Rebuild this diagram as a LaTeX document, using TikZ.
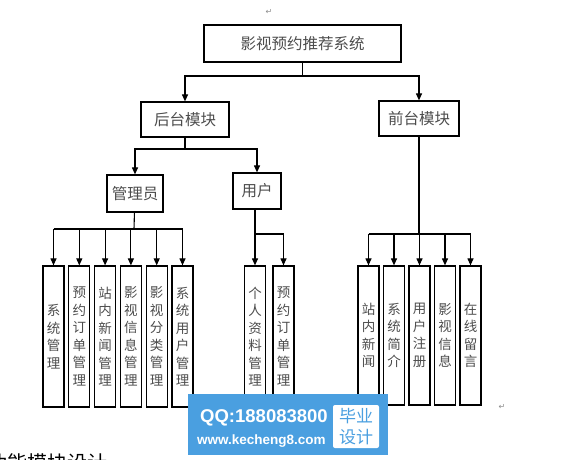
\documentclass[tikz,border=0pt]{standalone}
\usepackage{fontspec}
\setmainfont{Noto Sans CJK SC}
\newfontfamily\wmfont{Liberation Sans}
\newfontfamily\symfont{DejaVu Sans}
\usetikzlibrary{arrows.meta}
\definecolor{wmblue}{HTML}{4A9FE0}

\begin{document}
\begin{tikzpicture}[x=1pt, y=-1pt,
    box/.style={draw, line width=1.2pt, inner sep=0pt, text=black!70, font=\fontsize{15.5}{18}\selectfont},
    leaf/.style={box, minimum width=21pt, align=center, font=\fontsize{13.5}{17.5}\selectfont},
    link/.style={line width=1.1pt},
    arr/.style={link, -{Triangle[length=7pt, width=6pt]}},
    retmark/.style={text=black!45, inner sep=0pt, font=\symfont\fontsize{8}{8}\selectfont}]
  \useasboundingbox (0,0) rectangle (579,460);
  % upper levels
  \node[box, minimum width=197pt, minimum height=37pt] (top) at (302.5,43.5) {影视预约推荐系统};
  \node[box, minimum width=88pt, minimum height=35pt] (back) at (185,119.5) {后台模块};
  \node[box, minimum width=80pt, minimum height=35pt] (front) at (419,118.5) {前台模块};
  \node[box, minimum width=56pt, minimum height=37pt] (admin) at (135,193.5) {管理员};
  \node[box, minimum width=48pt, minimum height=36pt] (user) at (257,191) {用户};
  \coordinate (j0) at (302.5,76);
  \coordinate (j1) at (185,149);
  \draw[link] (top) -- (j0);
  \draw[arr] (j0) -| (back);
  \draw[arr] (j0) -| (front);
  \draw[link] (back) -- (j1);
  \draw[arr] (j1) -| (admin);
  \draw[arr] (j1) -| (user);
  % admin leaves
  \foreach \txt [count=\i] in {{系\\统\\管\\理},{预\\约\\订\\单\\管\\理},{站\\内\\新\\闻\\管\\理},
      {影\\视\\信\\息\\管\\理},{影\\视\\分\\类\\管\\理},{系\\统\\用\\户\\管\\理}}
    \node[leaf, minimum height=141pt] (a\i) at ({27.7+25.8*\i},336.5) {\txt};
  \coordinate (ja) at (134,229);
  \draw[link] (admin) -- (ja);
  \draw[link] (a1 |- ja) -- (a6 |- ja);
  \foreach \i in {1,...,6}
    \draw[arr] (a\i |- ja) -- (a\i);
  % user leaves
  \node[leaf, minimum height=141pt] (u1) at (255,336.5) {个\\人\\资\\料\\管\\理};
  \node[leaf, minimum height=141pt] (u2) at (283.5,336.5) {预\\约\\订\\单\\管\\理};
  \coordinate (ju) at (255,234);
  \draw[link] (ju |- user.south) -- (ju) -- (u2 |- ju);
  \draw[arr] (ju) -- (u1);
  \draw[arr] (u2 |- ju) -- (u2);
  % front leaves
  \foreach \txt [count=\i] in {{站\\内\\新\\闻},{系\\统\\简\\介},{用\\户\\注\\册},{影\\视\\信\\息},{在\\线\\留\\言}}
    \node[leaf, minimum height=139pt] (f\i) at ({343+25.5*\i},335.5) {\txt};
  \coordinate (jf) at (419,234);
  \draw[link] (front) -- (jf);
  \draw[link] (f1 |- jf) -- (f5 |- jf);
  \foreach \i in {1,...,5}
    \draw[arr] (f\i |- jf) -- (f\i);
  % paragraph marks
  \node[retmark] (m1) at (269,12) {↵};
  \node[retmark] (m2) at (502,407) {↵};
  % cut caption
  \begin{scope}
    \clip (0,0) rectangle (579,460);
    \node[anchor=north west, inner sep=0pt, font=\fontsize{20}{20}\selectfont] (cap) at (-13,453) {功能模块设计};
  \end{scope}
  % watermark
  \node[fill=wmblue, minimum width=200pt, minimum height=61pt, inner sep=0pt] (wm) at (288,424.5) {};
  \node[anchor=west, text=white, inner sep=0pt, font=\wmfont\bfseries\fontsize{18.5}{20}\selectfont] (qq) at (200,418) {QQ:188083800};
  \node[anchor=west, text=white, inner sep=0pt, font=\wmfont\bfseries\fontsize{13.5}{15}\selectfont] (web) at (197,441) {www.kecheng8.com};
  \node[fill=white, rounded corners=2pt, minimum width=46pt, minimum height=43pt, inner sep=0pt, align=center,
    text=wmblue, font=\fontsize{17}{21}\selectfont] (tag) at (356,426.5) {毕业\\设计};
\end{tikzpicture}
\end{document}
